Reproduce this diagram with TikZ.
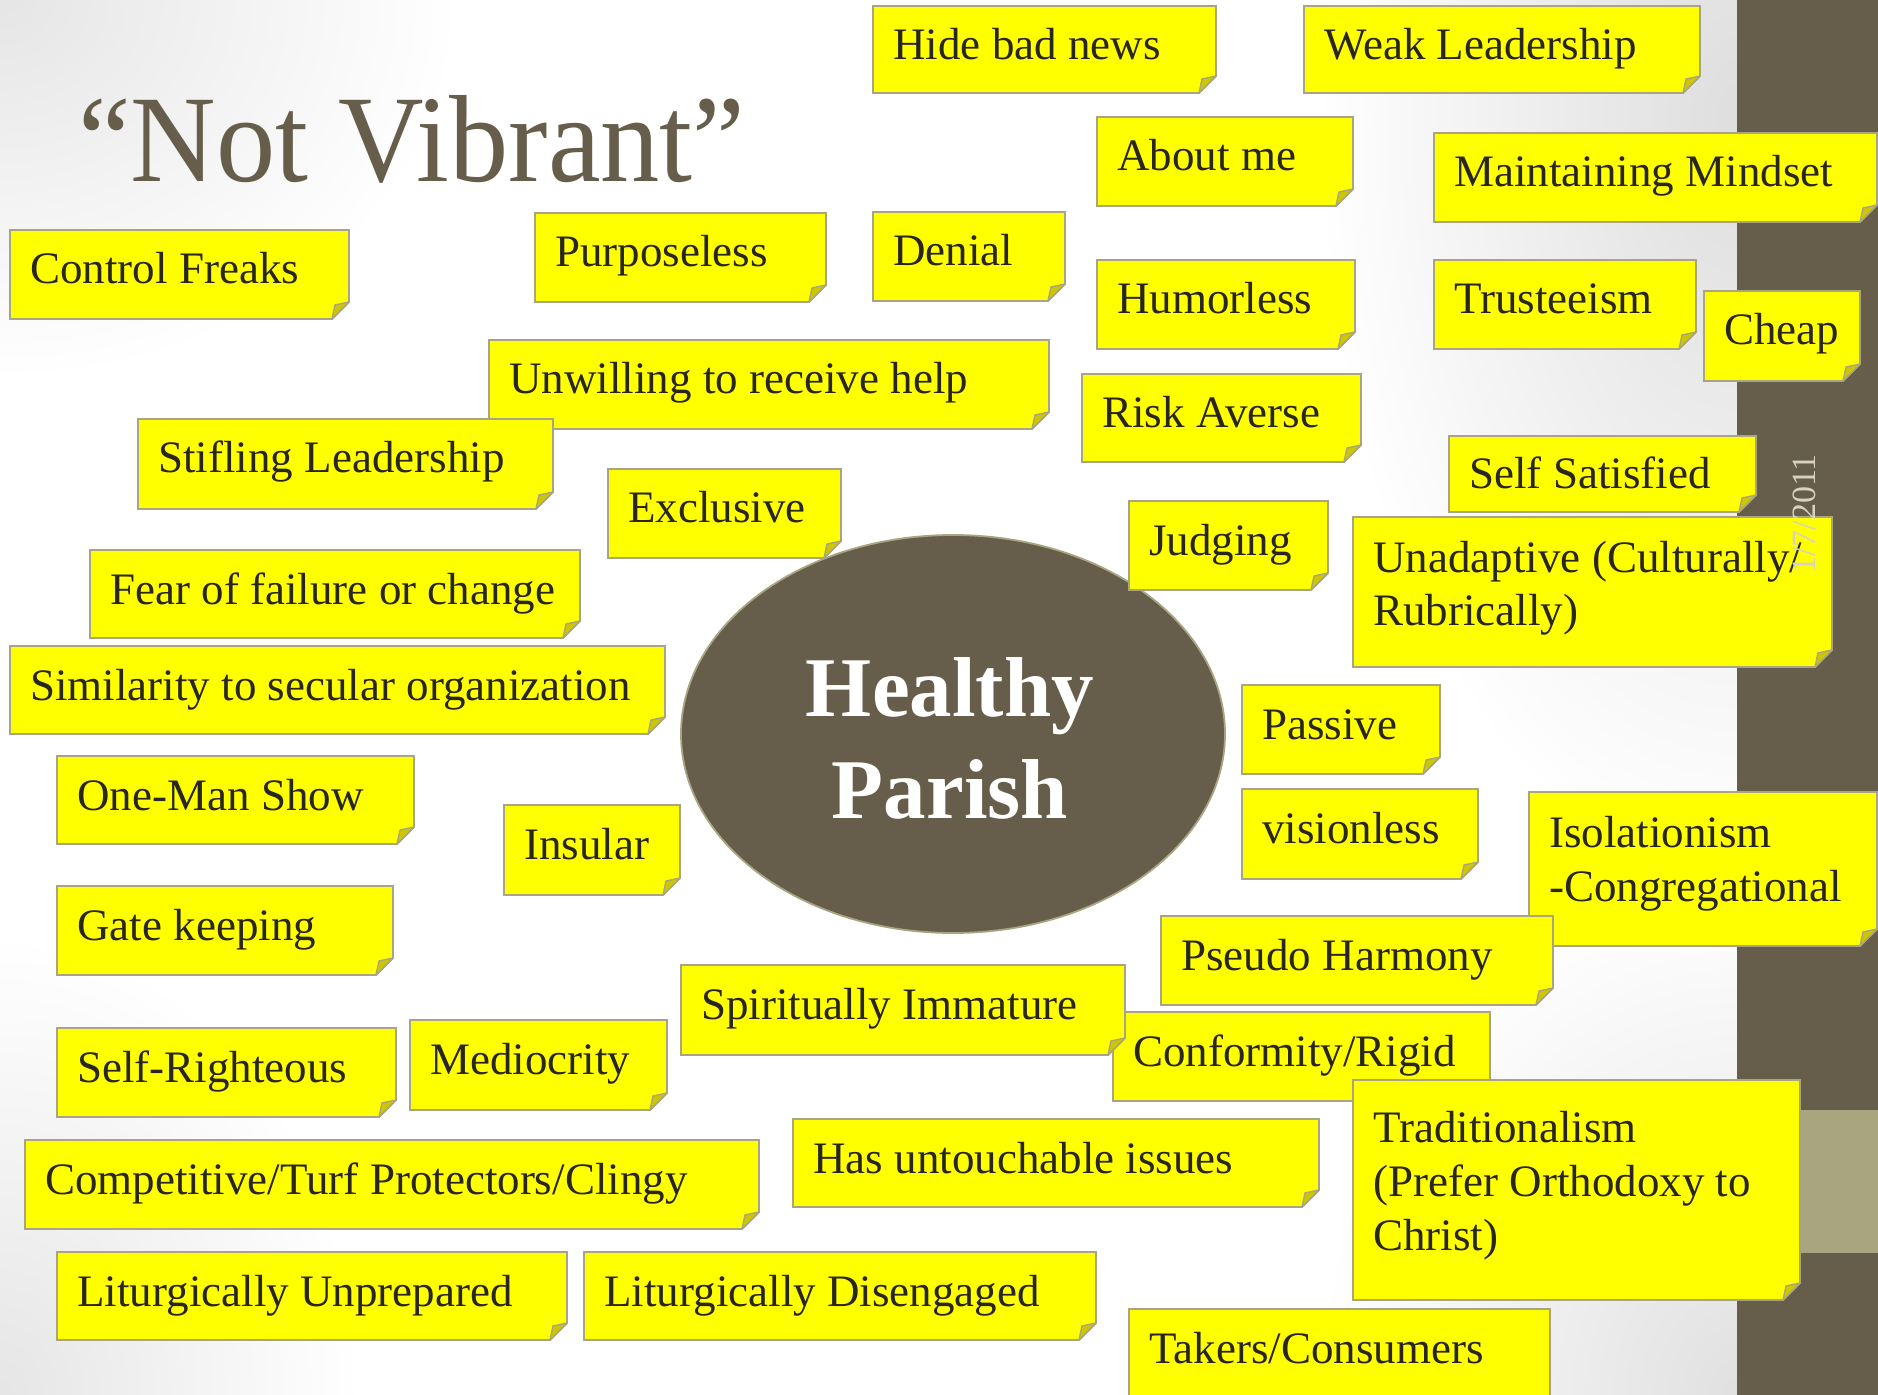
\documentclass[tikz,border=0pt]{standalone}
\usepackage{fontspec}
\setmainfont{Liberation Serif}
\newfontfamily\titlefont[FakeStretch=0.955]{Liberation Serif}
\usetikzlibrary{shapes.geometric}
\definecolor{brownbar}{RGB}{102,94,74}
\definecolor{lightband}{RGB}{169,165,126}
\definecolor{noteyellow}{RGB}{255,255,0}
\definecolor{noteline}{RGB}{168,165,130}
\definecolor{notefoldc}{RGB}{206,198,0}
\definecolor{notetextc}{RGB}{40,38,30}
\definecolor{datec}{RGB}{216,211,190}
\newcommand\notefont{\fontsize{22.5}{27}\selectfont}
\newcommand\lns[1]{\begin{tabular}[t]{@{}l@{}}#1\end{tabular}}
\tikzset{
  notebox/.style={fill=noteyellow, draw=noteline, line width=0.9pt, line join=miter},
  notefold/.style={fill=notefoldc, draw=noteline, line width=0.7pt, line join=round},
  notetext/.style={text=notetextc, inner sep=0pt, font=\notefont, anchor=base west},
  hubshape/.style={ellipse, fill=brownbar, draw=noteline, line width=0.9pt, inner sep=0pt},
  hubtext/.style={text=white, inner sep=0pt, anchor=base, font=\fontsize{42.5}{51}\selectfont\bfseries},
  titletext/.style={text=brownbar, inner sep=0pt, anchor=base west, font=\fontsize{62}{70}\titlefont},
  datetext/.style={text=datec, inner sep=0pt, rotate=90, font=\fontsize{17}{17}\selectfont},
}
% name, L, T, R, B, baseline offset, text
\newcommand\sticky[7]{%
  \path[notebox] (#2,#3) -- (#4,#3) -- (#4,#5-17) -- (#4-17,#5) -- (#2,#5) -- cycle;
  \path[notefold] (#4-17,#5) -- (#4-14,#5-14) -- (#4,#5-17) -- cycle;
  \node[notetext] (#1) at (#2+20,#3+#6) {#7};
}
\begin{document}
\begin{tikzpicture}[x=0.5pt, y=-0.5pt]
\useasboundingbox (0,0) rectangle (1878,1395);
\clip (0,0) rectangle (1878,1395);
% background
\fill[white] (0,0) rectangle (1878,1395);
\begin{scope}
  \clip (0,0) rectangle (1737,1395);
  \shade[inner color=black!10, outer color=white] (0,0) ellipse (460 and 380);
  \shade[inner color=black!10, outer color=white] (0,1395) ellipse (360 and 460);
  \shade[inner color=black!13, outer color=white] (1737,120) ellipse (420 and 760);
  \shade[inner color=black!12, outer color=white] (1737,1395) ellipse (420 and 520);
\end{scope}
\fill[brownbar] (1737,0) rectangle (1878,1395);
\fill[lightband] (1737,1110) rectangle (1878,1253);
% title
\node[titletext] (title) at (78,182) {“Not Vibrant”};
% central ellipse
\node[hubshape, minimum width=272pt, minimum height=199pt] (hub) at (953,734) {};
\node[hubtext] (hubtext) at (950,716) {\begin{tabular}[t]{@{}c@{}}Healthy\\Parish\end{tabular}};
% sticky notes
\sticky{hide}{873}{6}{1216}{93}{54}{Hide bad news}
\sticky{weak}{1304}{6}{1700}{93}{54}{Weak Leadership}
\sticky{aboutme}{1097}{117}{1353}{206}{54}{About me}
\sticky{maintain}{1434}{133}{1877}{222}{54}{Maintaining Mindset}
\sticky{control}{10}{230}{349}{319}{54}{Control Freaks}
\sticky{purpose}{535}{213}{826}{302}{54}{Purposeless}
\sticky{denial}{873}{212}{1065}{301}{54}{Denial}
\sticky{humor}{1097}{260}{1355}{349}{54}{Humorless}
\sticky{trust}{1434}{260}{1696}{349}{54}{Trusteeism}
\sticky{cheap}{1704}{291}{1860}{381}{54}{Cheap}
\sticky{unwill}{489}{340}{1049}{429}{54}{Unwilling to receive help}
\sticky{stifling}{138}{419}{553}{509}{54}{Stifling Leadership}
\sticky{risk}{1082}{374}{1361}{462}{54}{Risk Averse}
\sticky{selfsat}{1449}{436}{1756}{512}{52}{Self Satisfied}
\sticky{exclusive}{608}{469}{841}{558}{54}{Exclusive}
\sticky{judging}{1129}{501}{1328}{590}{54}{Judging}
\sticky{unadapt}{1353}{517}{1832}{667}{55}{\lns{Unadaptive (Culturally/\\Rubrically)}}
\sticky{fear}{90}{550}{580}{638}{54}{Fear of failure or change}
\sticky{similar}{10}{646}{665}{734}{54}{Similarity to secular organization}
\sticky{passive}{1242}{685}{1440}{774}{54}{Passive}
\sticky{oneman}{57}{756}{414}{844}{54}{One-Man Show}
\sticky{insular}{504}{805}{680}{895}{54}{Insular}
\sticky{vision}{1242}{789}{1478}{879}{54}{visionless}
\sticky{isol}{1529}{792}{1877}{946}{55}{\lns{Isolationism\\-Congregational}}
\sticky{pseudo}{1161}{916}{1553}{1005}{54}{Pseudo Harmony}
\sticky{gate}{57}{886}{393}{975}{54}{Gate keeping}
\sticky{conform}{1113}{1012}{1490}{1101}{54}{Conformity/Rigid}
\sticky{spirit}{681}{965}{1125}{1055}{54}{Spiritually Immature}
\sticky{selfright}{57}{1028}{396}{1117}{54}{Self-Righteous}
\sticky{medioc}{410}{1020}{667}{1110}{54}{Mediocrity}
\sticky{trad}{1353}{1080}{1800}{1300}{62}{\lns{Traditionalism\\(Prefer Orthodoxy to\\Christ)}}
\sticky{untouch}{793}{1119}{1319}{1207}{54}{Has untouchable issues}
\sticky{compet}{25}{1140}{759}{1229}{54}{Competitive/Turf Protectors/Clingy}
\sticky{litunp}{57}{1252}{567}{1340}{54}{Liturgically Unprepared}
\sticky{litdis}{584}{1252}{1096}{1340}{54}{Liturgically Disengaged}
\sticky{takers}{1129}{1309}{1550}{1430}{54}{Takers/Consumers}
% date
\node[datetext] (date) at (1804,514) {1/7/2011};
\end{tikzpicture}
\end{document}
